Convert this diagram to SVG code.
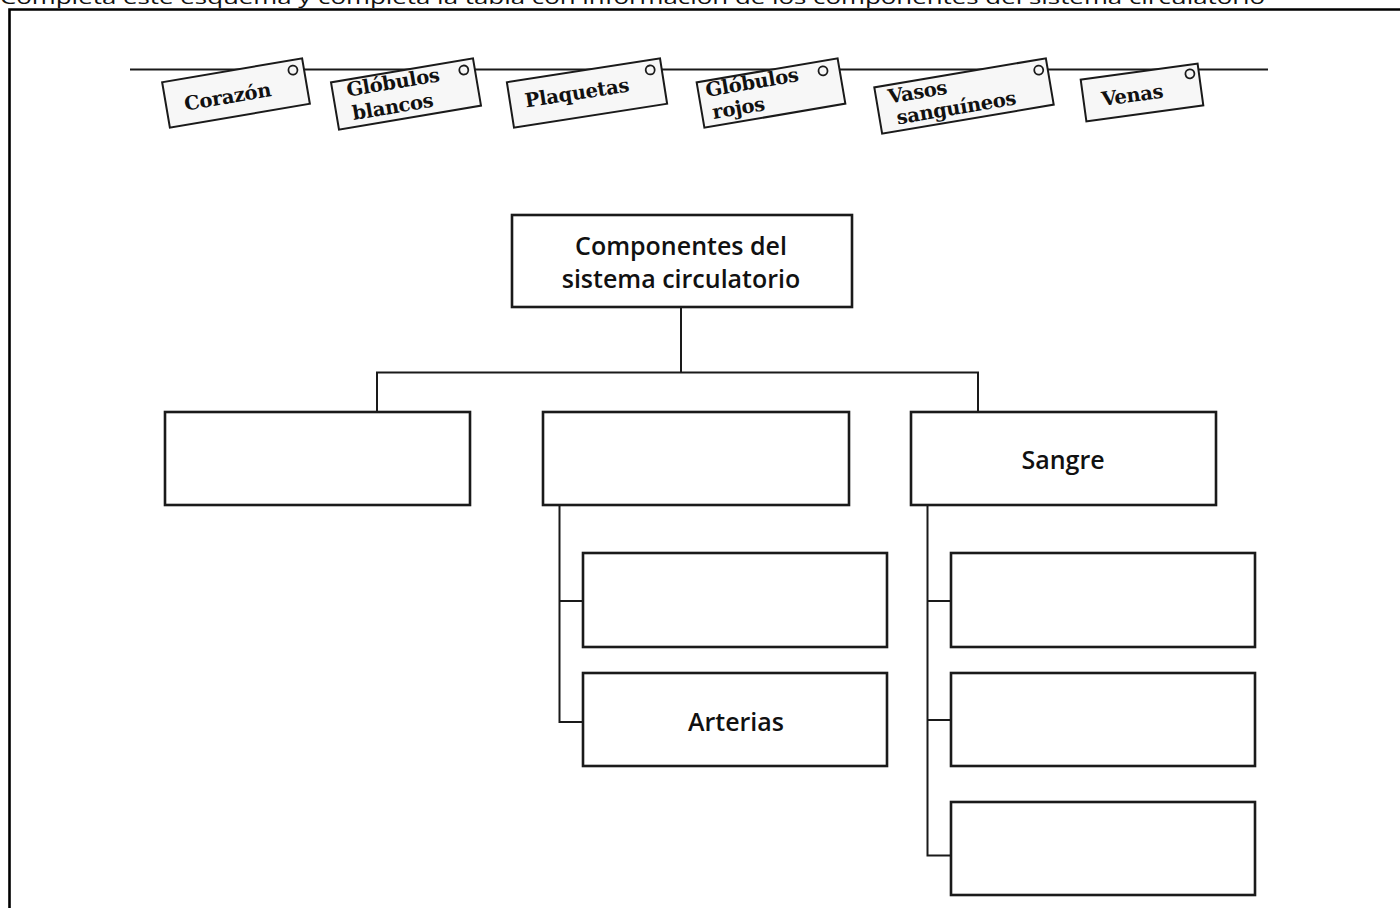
<svg xmlns="http://www.w3.org/2000/svg" width="1400" height="908" viewBox="0 0 1400 908">
<style>
.frame{stroke:#000;stroke-width:2.6;fill:none}
.line{stroke:#1a1a1a;stroke-width:2;fill:none}
.box{fill:#fff;stroke:#1a1a1a;stroke-width:2.6}
.tag{fill:#f7f7f7;stroke:#1a1a1a;stroke-width:2}
.hole{fill:none;stroke:#1a1a1a;stroke-width:1.8}
.tt{font-family:"DejaVu Serif","Liberation Serif",serif;font-weight:bold;font-size:19.5px;letter-spacing:-0.3px;fill:#111}
.bt{font-family:"Open Sans","Noto Sans",sans-serif;font-weight:600;font-size:25px;fill:#111;text-anchor:middle}
.hd{font-family:"Open Sans","Liberation Sans",sans-serif;font-size:19px;fill:#111}
</style>
<rect width="1400" height="908" fill="#fff"/>
<text class="hd" x="0" y="4" textLength="1265" lengthAdjust="spacingAndGlyphs">Completa  este esquema y completa la tabla con información de los componentes del sistema circulatorio</text>
<path class="frame" d="M9.5 908 V9.5 H1400"/>
<line class="line" x1="130" y1="69.5" x2="1268" y2="69.5" stroke-width="1.6"/>

<g id="tag-corazon" transform="translate(236,93) rotate(-9.7)">
<rect class="tag" x="-71" y="-23" width="142" height="46"/>
<circle class="hole" cx="60" cy="-13" r="4.5"/>
<text class="tt" x="-9" y="9" text-anchor="middle">Corazón</text>
</g>
<g id="tag-globulos-blancos" transform="translate(406,94) rotate(-9.6)">
<rect class="tag" x="-72" y="-24" width="144" height="48"/>
<circle class="hole" cx="61" cy="-14" r="4.5"/>
<text class="tt" x="-58" y="-7">Glóbulos</text>
<text class="tt" x="-56" y="17">blancos</text>
</g>
<g id="tag-plaquetas" transform="translate(587,93) rotate(-8.9)">
<rect class="tag" x="-77.5" y="-23" width="155" height="46"/>
<circle class="hole" cx="66" cy="-13" r="4.5"/>
<text class="tt" x="-10" y="5" text-anchor="middle">Plaquetas</text>
</g>
<g id="tag-globulos-rojos" transform="translate(771,93) rotate(-9.7)">
<rect class="tag" x="-71.5" y="-23" width="143" height="46"/>
<circle class="hole" cx="55" cy="-13" r="4.5"/>
<text class="tt" x="-64" y="-7">Glóbulos</text>
<text class="tt" x="-61" y="16">rojos</text>
</g>
<g id="tag-vasos-sanguineos" transform="translate(964,96) rotate(-9.6)">
<rect class="tag" x="-87" y="-23.5" width="174" height="47"/>
<circle class="hole" cx="78" cy="-13" r="4.5"/>
<text class="tt" x="-75" y="-5">Vasos</text>
<text class="tt" x="-70" y="17">sanguíneos</text>
</g>
<g id="tag-venas" transform="translate(1142,92.5) rotate(-7.8)">
<rect class="tag" x="-59" y="-21" width="118" height="42"/>
<circle class="hole" cx="50" cy="-12" r="4.5"/>
<text class="tt" x="-10" y="8" text-anchor="middle">Venas</text>
</g>

<g id="connectors">
<path class="line" d="M681 307 V372.5 M377 412 V372.5 H978 V412"/>
<path class="line" d="M559.5 506 V722 H583 M559.5 601 H583"/>
<path class="line" d="M927.5 506 V855.5 H951 M927.5 601 H951 M927.5 720 H951"/>
</g>

<g id="node-root">
<rect class="box" x="512" y="215" width="340" height="92"/>
<text class="bt" x="681" y="255">Componentes del</text>
<text class="bt" x="681" y="288">sistema circulatorio</text>
</g>
<g id="node-left"><rect class="box" x="165" y="412" width="305" height="93"/></g>
<g id="node-middle"><rect class="box" x="543" y="412" width="306" height="93"/></g>
<g id="node-sangre">
<rect class="box" x="911" y="412" width="305" height="93"/>
<text class="bt" x="1063" y="469">Sangre</text>
</g>
<g id="node-m1"><rect class="box" x="583" y="553" width="304" height="94"/></g>
<g id="node-arterias">
<rect class="box" x="583" y="673" width="304" height="93"/>
<text class="bt" x="736" y="731">Arterias</text>
</g>
<g id="node-s1"><rect class="box" x="951" y="553" width="304" height="94"/></g>
<g id="node-s2"><rect class="box" x="951" y="673" width="304" height="93"/></g>
<g id="node-s3"><rect class="box" x="951" y="802" width="304" height="93"/></g>
</svg>
